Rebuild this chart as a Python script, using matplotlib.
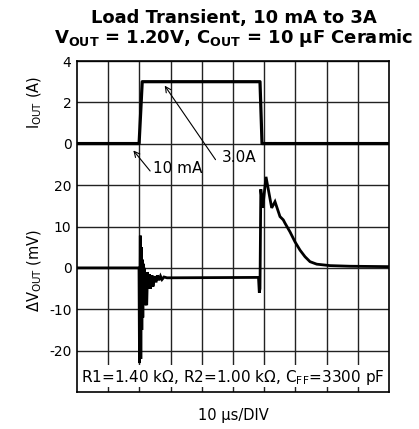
import numpy as np
import matplotlib
matplotlib.use("Agg")
import matplotlib.pyplot as plt
from matplotlib.patches import Rectangle
from matplotlib.transforms import blended_transform_factory

plt.rcParams['font.family'] = ['DejaVu Sans']
plt.rcParams['mathtext.fontset'] = 'dejavusans'

# datos (tiempo en us)
t_i = [0, 19.9, 20.9, 58.65, 59.3, 100]
i_out = [0.01, 0.01, 3.0, 3.0, 0.01, 0.01]

t_v = [0, 19.87, 20.03, 20.29, 20.45, 20.61, 20.77, 20.93, 21.09, 21.25, 21.41,
       21.63, 21.96, 22.34, 22.60, 22.92, 23.24, 23.56, 24.04, 24.36, 24.84,
       25.32, 25.80, 26.28, 26.76, 27.24, 27.88, 28.85, 58.17, 58.43, 58.65,
       58.91, 59.52, 60.58, 62.40, 63.46, 65.06, 66.12, 66.67, 68.27, 69.87,
       71.47, 73.08, 74.68, 76.83, 81.09, 87.5, 100]
dv_out = [0, 0, -23, 7.8, -22, 5, -15, 2, -12, 1, -9,
          0, -8.5, -9, -1, -5, -1.5, -5, -1.8, -4.5, -2,
          -3.5, -1.8, -3, -2, -2.8, -2.2, -2.4, -2.3, -6, -5,
          19, 14.5, 22, 14.5, 16, 12.4, 11.6, 10.8, 8.7, 6.3,
          4.3, 2.7, 1.5, 0.9, 0.55, 0.4, 0.3]

ytick_pos = [1, 2, 3, 4, 5, 6, 7, 8]
ytick_lab = ['-20', '-10', '0', '10', '20', '0', '2', '4']

# escala: corriente en divisiones 6..8, tension en divisiones 0..6
y_i = [6 + v / 2.0 for v in i_out]
y_v = [3 + v / 10.0 for v in dv_out]

fig = plt.figure(figsize=(4.19, 4.29), dpi=100)
ax = fig.add_axes([0.1838, 0.0862, 0.7446, 0.7716])

ax.set_xlim(0, 100)
ax.set_ylim(0, 8)
ax.set_xticks(np.arange(10, 100, 10))
ax.set_xticklabels([])
ax.tick_params(axis='x', length=0)
ax.set_yticks(ytick_pos)
ax.set_yticklabels(ytick_lab, fontsize=10)
ax.tick_params(axis='y', length=0, pad=4)
ax.set_axisbelow(True)
ax.grid(True, color='#222222', lw=1.0)
for s in ax.spines.values():
    s.set_linewidth(1.2)

ax.plot(t_i, y_i, color='black', lw=2.3, zorder=3)
ax.plot(t_v, y_v, color='black', lw=2.0, zorder=3, solid_joinstyle='miter')

# caja blanca del texto inferior
ax.add_patch(Rectangle((0, 0.13), 100, 0.52, facecolor='white', edgecolor='none', zorder=1))
ax.text(50, 0.36, r'R1=1.40 k$\Omega$, R2=1.00 k$\Omega$, C$_\mathrm{FF}$=3300 pF',
        ha='center', va='center', fontsize=11, zorder=4)

# anotaciones
ax.annotate('', xy=(27.6, 7.46), xytext=(44.9, 5.56),
            arrowprops=dict(arrowstyle='->', lw=0.8, color='black'))
ax.text(46.3, 5.66, '3.0A', ha='left', va='center', fontsize=11)
ax.annotate('', xy=(17.5, 5.89), xytext=(24.0, 5.29),
            arrowprops=dict(arrowstyle='->', lw=0.8, color='black'))
ax.text(24.4, 5.40, '10 mA', ha='left', va='center', fontsize=11)

tr = blended_transform_factory(ax.transAxes, ax.transData)
ax.text(-0.135, 7.0, r'I$_\mathrm{OUT}$ (A)', rotation=90, ha='center', va='center',
        fontsize=10.5, transform=tr)
ax.text(-0.135, 2.93, r'$\Delta$V$_\mathrm{OUT}$ (mV)', rotation=90, ha='center', va='center',
        fontsize=10.5, transform=tr)

fig.text(0.557, 1 - 23 / 429, 'Load Transient, 10 mA to 3A', ha='center', va='baseline',
         fontsize=13, fontweight='bold')
fig.text(0.557, 1 - 43 / 429, r'V$_\mathbf{OUT}$ = 1.20V, C$_\mathbf{OUT}$ = 10 µF Ceramic',
         ha='center', va='baseline', fontsize=13, fontweight='bold')
fig.text(0.557, 0.0326, '10 µs/DIV', ha='center', va='center', fontsize=10.5)

fig.savefig('out.png', dpi=100)
